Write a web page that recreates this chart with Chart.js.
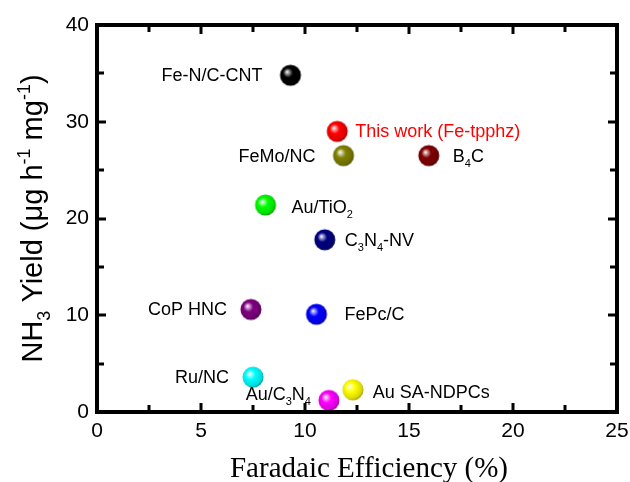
<!DOCTYPE html>
<html>
<head>
<meta charset="utf-8">
<script src="https://cdn.jsdelivr.net/npm/chart.js@4.4.1/dist/chart.umd.min.js"></script>
<style>
  body { margin: 0; background: #fff; }
  #wrap { width: 630px; height: 482px; }
</style>
</head>
<body>
<div id="wrap"><canvas id="chart" width="630" height="482"></canvas></div>
<script>
// catalysts, "_x" marks a subscript character
const names = ['Fe-N/C-CNT', 'This work (Fe-tpphz)', 'FeMo/NC', 'B_4C', 'Au/TiO_2', 'C_3N_4-NV',
  'CoP HNC', 'FePc/C', 'Ru/NC', 'Au/C_3N_4', 'Au SA-NDPCs'];
const faradaicEff = [9.3, 11.55, 11.85, 15.95, 8.1, 10.95, 7.4, 10.55, 7.5, 11.15, 12.3];
const nh3Yield = [34.8, 29.0, 26.5, 26.5, 21.4, 17.8, 10.6, 10.1, 3.6, 1.2, 2.3];
const colors = ['#000000', '#ff0000', '#808000', '#800000', '#00ff00', '#000080',
  '#800080', '#0000ff', '#00ffff', '#ff00ff', '#ffff00'];
const xTickLabels = ['0', '5', '10', '15', '20', '25'];
const yTickLabels = ['0', '10', '20', '30', '40'];

// label placement relative to each ball (pixels)
const labelPos = [
  { dx: -28, dy: 0, align: 'right' },
  { dx: 18, dy: 0, align: 'left' },
  { dx: -28, dy: 0, align: 'right' },
  { dx: 24, dy: 0, align: 'left' },
  { dx: 26, dy: 2, align: 'left' },
  { dx: 20, dy: 0, align: 'left' },
  { dx: -24, dy: 0, align: 'right' },
  { dx: 28, dy: 0, align: 'left' },
  { dx: -24, dy: 0, align: 'right' },
  { dx: -18, dy: -6, align: 'right' },
  { dx: 20, dy: 2, align: 'left' }
];

function shade(hex, f) {
  const n = parseInt(hex.slice(1), 16);
  let r = (n >> 16) & 255, g = (n >> 8) & 255, b = n & 255;
  if (f < 0) { r *= 1 + f; g *= 1 + f; b *= 1 + f; }
  else { r += (255 - r) * f; g += (255 - g) * f; b += (255 - b) * f; }
  return 'rgb(' + Math.round(r) + ',' + Math.round(g) + ',' + Math.round(b) + ')';
}

function makeBall(color) {
  const r = 10.5;
  const c = document.createElement('canvas');
  c.width = c.height = 24;
  const g = c.getContext('2d');
  const cx = 12, cy = 12;
  const grad = g.createRadialGradient(cx - 3.5, cy - 3.5, 0, cx - 1, cy - 1, r + 1.5);
  grad.addColorStop(0, '#ffffff');
  grad.addColorStop(0.14, shade(color, 0.65));
  grad.addColorStop(0.4, color);
  grad.addColorStop(0.85, shade(color, -0.15));
  grad.addColorStop(1, shade(color, -0.45));
  g.fillStyle = grad;
  g.beginPath();
  g.arc(cx, cy, r, 0, Math.PI * 2);
  g.fill();
  return c;
}

// split "C_3N_4" into text runs, "^-1" for superscripts
function parseRich(s) {
  const out = [];
  let buf = '';
  for (let i = 0; i < s.length; i++) {
    if (s[i] === '_' && i + 1 < s.length) {
      if (buf) out.push({ t: buf });
      buf = '';
      out.push({ t: s[i + 1], sub: true });
      i++;
    } else if (s[i] === '^') {
      if (buf) out.push({ t: buf });
      buf = '';
      let j = i + 1, sup = '';
      while (j < s.length && s[j] !== ' ' && s[j] !== ')') { sup += s[j]; j++; }
      out.push({ t: sup, sup: true });
      i = j - 1;
    } else {
      buf += s[i];
    }
  }
  if (buf) out.push({ t: buf });
  return out;
}

function drawRich(ctx, runs, x, y, size, family, align) {
  const small = Math.round(size * 0.62);
  const widths = runs.map(r => {
    ctx.font = (r.sub || r.sup ? small : size) + 'px ' + family;
    return ctx.measureText(r.t).width;
  });
  const total = widths.reduce((a, b) => a + b, 0);
  let cur = align === 'right' ? x - total : align === 'center' ? x - total / 2 : x;
  ctx.textAlign = 'left';
  ctx.textBaseline = 'alphabetic';
  runs.forEach((r, i) => {
    let yy = y;
    if (r.sub) yy += size * 0.28;
    if (r.sup) yy -= size * 0.42;
    ctx.font = (r.sub || r.sup ? small : size) + 'px ' + family;
    ctx.fillText(r.t, cur, yy);
    cur += widths[i];
  });
}

const sans = '"Liberation Sans", Arial, sans-serif';
const serif = '"Liberation Serif", "Times New Roman", serif';

const decor = {
  id: 'decor',
  afterDraw(chart) {
    const ctx = chart.ctx;
    const a = chart.chartArea;
    const xs = chart.scales.x, ys = chart.scales.y;
    ctx.save();
    ctx.fillStyle = '#000';
    ctx.strokeStyle = '#000';

    // frame
    ctx.lineWidth = 4;
    ctx.strokeRect(a.left, a.top, a.right - a.left, a.bottom - a.top);

    // inward ticks on all four sides
    for (let v = 0; v <= 25; v += 2.5) {
      const px = Math.round(xs.getPixelForValue(v));
      const len = v % 5 === 0 ? 9 : 7;
      ctx.fillRect(px - 1.5, a.bottom - len, 3, len);
      ctx.fillRect(px - 1.5, a.top, 3, len);
    }
    for (let v = 0; v <= 40; v += 5) {
      const py = Math.round(ys.getPixelForValue(v));
      const len = v % 10 === 0 ? 9 : 7;
      ctx.fillRect(a.left, py - 1.5, len, 3);
      ctx.fillRect(a.right - len, py - 1.5, len, 3);
    }

    // point labels
    names.forEach((n, i) => {
      const px = xs.getPixelForValue(faradaicEff[i]);
      const py = ys.getPixelForValue(nh3Yield[i]);
      const p = labelPos[i];
      ctx.fillStyle = i === 1 ? '#ff0000' : '#000';
      drawRich(ctx, parseRich(n), px + p.dx, py + p.dy + 6, 18, sans, p.align);
    });

    // axis titles
    ctx.fillStyle = '#000';
    drawRich(ctx, [{ t: 'Faradaic Efficiency (%)' }], (a.left + a.right) / 2 + 12, 477, 29, serif, 'center');
    ctx.translate(42, (a.top + a.bottom) / 2);
    ctx.rotate(-Math.PI / 2);
    drawRich(ctx, parseRich('NH_3 Yield (\u03bcg h^-1 mg^-1)'), 0, 0, 29, sans, 'center');
    ctx.restore();
  }
};

new Chart(document.getElementById('chart'), {
  type: 'scatter',
  data: {
    datasets: [{
      data: faradaicEff.map((v, i) => ({ x: v, y: nh3Yield[i] })),
      pointStyle: colors.map(makeBall),
      pointRadius: 10,
      backgroundColor: colors
    }]
  },
  options: {
    responsive: false,
    devicePixelRatio: 1,
    animation: false,
    layout: { padding: { top: 25, right: 13, left: 0, bottom: 0 } },
    plugins: { legend: { display: false }, tooltip: { enabled: false } },
    scales: {
      x: {
        min: 0, max: 25,
        grid: { display: false, drawTicks: false },
        border: { display: false },
        ticks: {
          stepSize: 5,
          padding: 7,
          color: '#000',
          font: { family: sans, size: 21 },
          maxRotation: 0,
          autoSkip: false,
          callback: v => xTickLabels[v / 5]
        },
        afterFit: s => { s.height = 70; s.paddingLeft = 0; s.paddingRight = 0; }
      },
      y: {
        min: 0, max: 40,
        grid: { display: false, drawTicks: false },
        border: { display: false },
        ticks: {
          stepSize: 10,
          padding: 8,
          color: '#000',
          font: { family: sans, size: 21 },
          autoSkip: false,
          callback: v => yTickLabels[v / 10]
        },
        afterFit: s => { s.width = 97; s.paddingTop = 0; s.paddingBottom = 0; }
      }
    }
  },
  plugins: [decor]
});
</script>
</body>
</html>
